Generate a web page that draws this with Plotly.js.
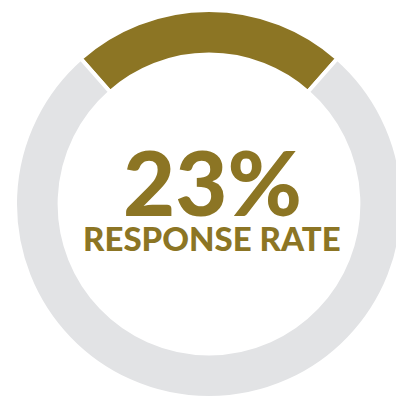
<!DOCTYPE html>
<html>
<head>
<meta charset="utf-8">
<script src="https://cdn.plot.ly/plotly-3.0.1.min.js"></script>
<style>
html,body{margin:0;padding:0;width:396px;height:396px;overflow:hidden;background:#fff;}
#chart{position:absolute;left:15px;top:10px;width:388px;height:388px;}
</style>
</head>
<body>
<div id="chart"></div>
<script>
const labels = ["Responded", "Did not respond"];
const values = [23, 77];
const colors = ["#8C7524", "#E2E3E5"];
const bigText = "23%";
const subText = "RESPONSE RATE";

const trace = {
  type: "pie",
  labels: labels,
  values: values,
  hole: 0.77,
  sort: false,
  direction: "clockwise",
  rotation: -values[0] / 100 * 180,
  textinfo: "none",
  hoverinfo: "none",
  showlegend: false,
  marker: {colors: colors, line: {color: "#ffffff", width: 4}}
};

const layout = {
  width: 388, height: 388,
  margin: {l: 0, r: 0, t: 0, b: 0, pad: 0},
  paper_bgcolor: "rgba(0,0,0,0)",
  plot_bgcolor: "rgba(0,0,0,0)",
  showlegend: false,
  annotations: [
    {text: bigText, x: 0.508, y: 0.56, xref: "paper", yref: "paper",
     showarrow: false, xanchor: "center", yanchor: "middle",
     font: {family: "Lato", size: 90, weight: 900, color: colors[0]}},
    {text: subText, x: 0.508, y: 0.412, xref: "paper", yref: "paper",
     showarrow: false, xanchor: "center", yanchor: "middle",
     font: {family: "Lato", size: 33, weight: 900, color: colors[0]}}
  ]
};

Plotly.newPlot("chart", [trace], layout, {staticPlot: true, displayModeBar: false});
</script>
</body>
</html>
